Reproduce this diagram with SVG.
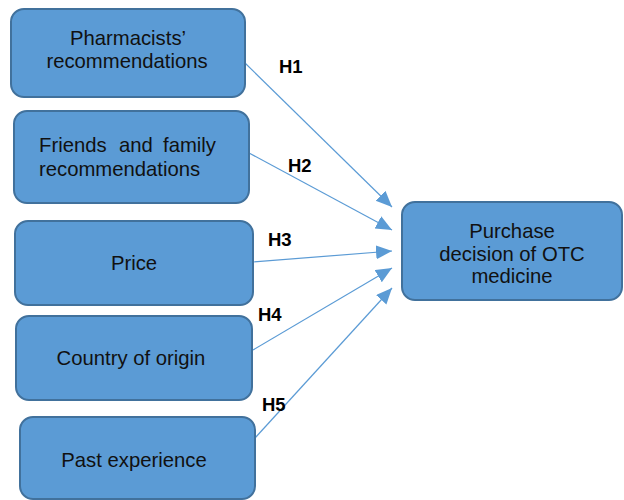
<svg xmlns="http://www.w3.org/2000/svg" width="624" height="500" viewBox="0 0 624 500">
<style>
.box{fill:#5B9BD5;stroke:#41719C;stroke-width:2}
.t{font-family:"Liberation Sans",Arial,sans-serif;font-size:20.3px;fill:#111;text-anchor:middle}
.h{font-family:"Liberation Sans",Arial,sans-serif;font-size:18.5px;font-weight:bold;fill:#000}
.c{stroke:#5B9BD5;stroke-width:1.2;fill:none;marker-end:url(#ah)}
</style>
<defs>
<marker id="ah" markerUnits="userSpaceOnUse" markerWidth="18" markerHeight="16" refX="16" refY="7" orient="auto">
<path d="M0,0 L16,7 L0,14 Z" fill="#5B9BD5"/>
</marker>
</defs>
<rect width="624" height="500" fill="#fff"/>
<g id="connectors">
<line class="c" x1="245" y1="63" x2="392" y2="207"/>
<line class="c" x1="249" y1="153" x2="392" y2="230"/>
<line class="c" x1="253" y1="262" x2="392" y2="251"/>
<line class="c" x1="253" y1="350" x2="392" y2="268"/>
<line class="c" x1="255" y1="438" x2="392" y2="288"/>
</g>
<g id="n1">
<rect class="box" x="11" y="9" width="234" height="88" rx="13"/>
<text class="t" x="128" y="45">Pharmacists’</text>
<text class="t" x="127" y="68">recommendations</text>
</g>
<g id="n2">
<rect class="box" x="14" y="111" width="235" height="92" rx="13"/>
<text class="t" style="text-anchor:start"><tspan x="39" y="152">Friends</tspan><tspan x="119" y="152">and</tspan><tspan x="163" y="152">family</tspan></text>
<text class="t" style="text-anchor:start" x="39" y="176">recommendations</text>
</g>
<g id="n3">
<rect class="box" x="15" y="221" width="238" height="84" rx="13"/>
<text class="t" x="134" y="270">Price</text>
</g>
<g id="n4">
<rect class="box" x="16" y="316" width="236" height="84" rx="13"/>
<text class="t" x="131" y="365">Country of origin</text>
</g>
<g id="n5">
<rect class="box" x="20" y="417" width="235" height="82" rx="13"/>
<text class="t" x="134" y="467">Past experience</text>
</g>
<g id="target">
<rect class="box" x="402" y="202" width="220" height="98" rx="13"/>
<text class="t" x="512" y="238">Purchase</text>
<text class="t" x="512" y="261">decision of OTC</text>
<text class="t" x="512" y="283">medicine</text>
</g>
<g id="labels">
<text class="h" x="279" y="73">H1</text>
<text class="h" x="288" y="172">H2</text>
<text class="h" x="268" y="246">H3</text>
<text class="h" x="258" y="321">H4</text>
<text class="h" x="262" y="411">H5</text>
</g>
</svg>
